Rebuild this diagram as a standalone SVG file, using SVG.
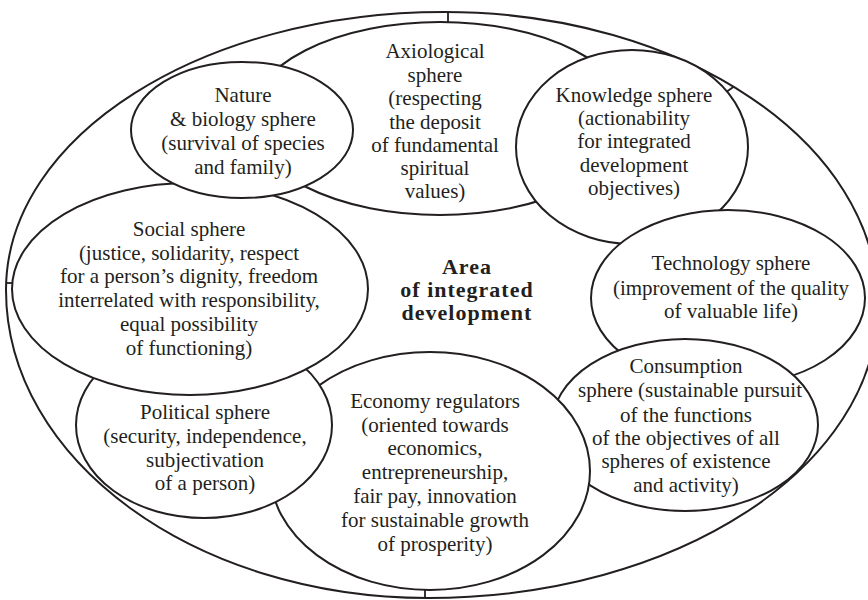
<svg xmlns="http://www.w3.org/2000/svg" width="868" height="600" viewBox="0 0 868 600">
<style>
.shape{fill:#fff;stroke:#231f20;stroke-width:2}
.frame{fill:#fff;stroke:#231f20;stroke-width:2}
.tick{stroke:#231f20;stroke-width:1.8;fill:none}
text{font-family:"Liberation Serif","Times New Roman",serif;font-size:21px;fill:#231f20;text-anchor:middle}
.title{font-weight:bold;font-size:22px;letter-spacing:1px}
</style>
<rect width="868" height="600" fill="#fff"/>
<g id="area">
<path class="frame" d="M6,290 C6,136.5 202,12 444,12 C683.7,12 878,143.2 878,305 C878,466.8 676.5,598 428,598 C195,598 6,460 6,290 Z"/>
<text class="title"><tspan x="467" y="274">Area</tspan><tspan x="467" y="297">of integrated</tspan><tspan x="467" y="320">development</tspan></text>
</g>
<g id="axiological">
<ellipse class="shape" cx="440" cy="118.5" rx="190" ry="96.5"/>
<text><tspan x="435" y="58">Axiological</tspan><tspan x="435" y="82">sphere</tspan><tspan x="435" y="105">(respecting</tspan><tspan x="435" y="129">the deposit</tspan><tspan x="435" y="152">of fundamental</tspan><tspan x="435" y="175">spiritual</tspan><tspan x="435" y="198">values)</tspan></text>
</g>
<g id="knowledge">
<ellipse class="shape" cx="632" cy="147" rx="116" ry="97"/>
<text><tspan x="634" y="102">Knowledge sphere</tspan><tspan x="634" y="125">(actionability</tspan><tspan x="634" y="148">for integrated</tspan><tspan x="634" y="172">development</tspan><tspan x="634" y="195">objectives)</tspan></text>
</g>
<g id="technology">
<ellipse class="shape" cx="728" cy="298" rx="137" ry="88"/>
<text><tspan x="731" y="270">Technology sphere</tspan><tspan x="731" y="295">(improvement of the quality</tspan><tspan x="731" y="318">of valuable life)</tspan></text>
</g>
<g id="consumption">
<ellipse class="shape" cx="685" cy="425" rx="133" ry="86"/>
<text><tspan x="686" y="373">Consumption</tspan><tspan x="690" y="397">sphere (sustainable pursuit</tspan><tspan x="686" y="422">of the functions</tspan><tspan x="686" y="445">of the objectives of all</tspan><tspan x="686" y="468">spheres of existence</tspan><tspan x="686" y="492">and activity)</tspan></text>
</g>
<g id="economy">
<ellipse class="shape" cx="430" cy="471" rx="160" ry="119"/>
<text><tspan x="435" y="408">Economy regulators</tspan><tspan x="435" y="432">(oriented towards</tspan><tspan x="435" y="455">economics,</tspan><tspan x="435" y="479">entrepreneurship,</tspan><tspan x="435" y="503">fair pay, innovation</tspan><tspan x="435" y="527">for sustainable growth</tspan><tspan x="435" y="551">of prosperity)</tspan></text>
</g>
<g id="political">
<ellipse class="shape" cx="204" cy="425" rx="128" ry="93"/>
<text><tspan x="205" y="419">Political sphere</tspan><tspan x="205" y="443">(security, independence,</tspan><tspan x="205" y="467">subjectivation</tspan><tspan x="205" y="490">of a person)</tspan></text>
</g>
<g id="social">
<ellipse class="shape" cx="190" cy="289" rx="178" ry="106"/>
<text><tspan x="189" y="236">Social sphere</tspan><tspan x="189" y="260">(justice, solidarity, respect</tspan><tspan x="189" y="283">for a person’s dignity, freedom</tspan><tspan x="189" y="307">interrelated with responsibility,</tspan><tspan x="189" y="331">equal possibility</tspan><tspan x="189" y="355">of functioning)</tspan></text>
</g>
<g id="nature">
<ellipse class="shape" cx="242" cy="130" rx="111" ry="68"/>
<text><tspan x="243" y="102">Nature</tspan><tspan x="243" y="126">&amp; biology sphere</tspan><tspan x="243" y="150">(survival of species</tspan><tspan x="243" y="174">and family)</tspan></text>
</g>
<g id="connectors">
<line class="tick" x1="448" y1="12" x2="448" y2="22"/>
<line class="tick" x1="727" y1="91.5" x2="734" y2="86.5"/>
<line class="tick" x1="6" y1="283" x2="12.5" y2="283"/>
<line class="tick" x1="425" y1="590" x2="425" y2="598"/>
</g>
</svg>
